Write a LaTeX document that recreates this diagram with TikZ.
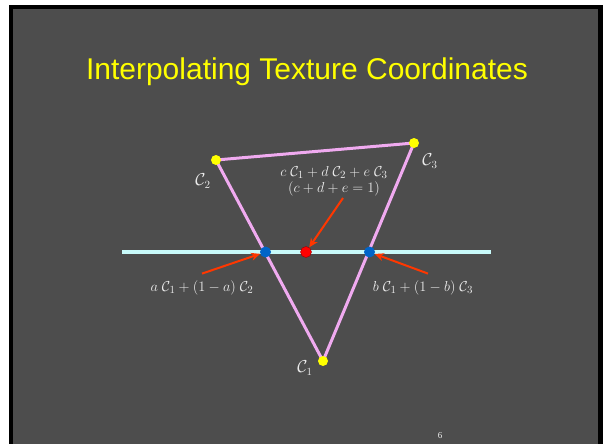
\documentclass[tikz,border=0pt]{standalone}
\usepackage{fontspec}
\setmainfont{Liberation Sans}
\newfontfamily\pagefont{Liberation Serif}
\usepackage{xcolor}
\definecolor{slate}{RGB}{77,77,77}
\definecolor{sun}{RGB}{255,255,0}
\definecolor{lilac}{RGB}{240,170,240}
\definecolor{frost}{RGB}{200,250,250}
\definecolor{ink}{RGB}{235,235,235}
\definecolor{flame}{RGB}{255,55,0}
\definecolor{cobalt}{RGB}{0,100,200}
\usetikzlibrary{arrows.meta,positioning}

\begin{document}
\begin{tikzpicture}[x=1pt,y=-1pt,
  vtx/.style={circle,fill=sun,inner sep=0pt,minimum size=10pt},
  hit/.style={circle,fill=cobalt,inner sep=0pt,minimum size=11pt},
  mid/.style={circle,fill=red,draw=red!60!black,inner sep=0pt,minimum size=11pt},
  edge/.style={lilac,line width=3pt},
  scan/.style={frost,line width=4pt},
  lbl/.style={text=ink,font=\fontsize{16}{18}\selectfont,inner sep=1pt,align=center},
  eq/.style={text=ink,font=\fontsize{15}{16}\selectfont,inner sep=1pt,align=center},
  ar/.style={-{Stealth[length=9pt,width=8pt]},flame,line width=2pt},
]
  \useasboundingbox (0,0) rectangle (605,444);
  % slide frame
  \fill[white] (0,0) rectangle (605,444);
  \fill[black] (9,5) rectangle (603,444);
  \fill[slate] (12.5,9) rectangle (598,444);
  \node[sun,font=\fontsize{30}{34}\selectfont,anchor=base] (title) at (307,79)
    {Interpolating Texture Coordinates};

  \coordinate (C1) at (323,361);
  \coordinate (C2) at (216,160);
  \coordinate (C3) at (414,143);
  \coordinate (L) at (122,251.5);
  \coordinate (R) at (491,251.5);

  \draw[scan] (L) -- (R);
  \draw[edge] (C1) -- (C2) -- (C3) -- cycle;

  \node[vtx] (v1) at (C1) {};
  \node[vtx] (v2) at (C2) {};
  \node[vtx] (v3) at (C3) {};
  \node[hit] (pa) at (265.5,252) {};
  \node[hit] (pb) at (369.5,252) {};
  \node[mid] (pm) at (306,252) {};

  \node[lbl] (n1) at (305,368) {$\mathcal{C}_1$};
  \node[lbl] (n2) at (203,181) {$\mathcal{C}_2$};
  \node[lbl] (n3) at (430,161) {$\mathcal{C}_3$};
  \node[eq] (eqm) at (334,181)
    {$c\;\mathcal{C}_1+d\;\mathcal{C}_2+e\;\mathcal{C}_3$\\ $(c+d+e=1)$};
  \node[eq] (eqa) at (202,288) {$a\;\mathcal{C}_1+(1-a)\;\mathcal{C}_2$};
  \node[eq] (eqb) at (423,288) {$b\;\mathcal{C}_1+(1-b)\;\mathcal{C}_3$};

  \draw[ar] ([xshift=9pt,yshift=-1pt]eqm.south) -- (pm);
  \draw[ar] ([yshift=6pt]eqa.north) -- (pa);
  \draw[ar] ([xshift=5pt,yshift=6pt]eqb.north) -- (pb);

  \node[text=ink!80,font=\pagefont\fontsize{9}{10}\selectfont] (pg) at (440,436) {6};
\end{tikzpicture}
\end{document}
